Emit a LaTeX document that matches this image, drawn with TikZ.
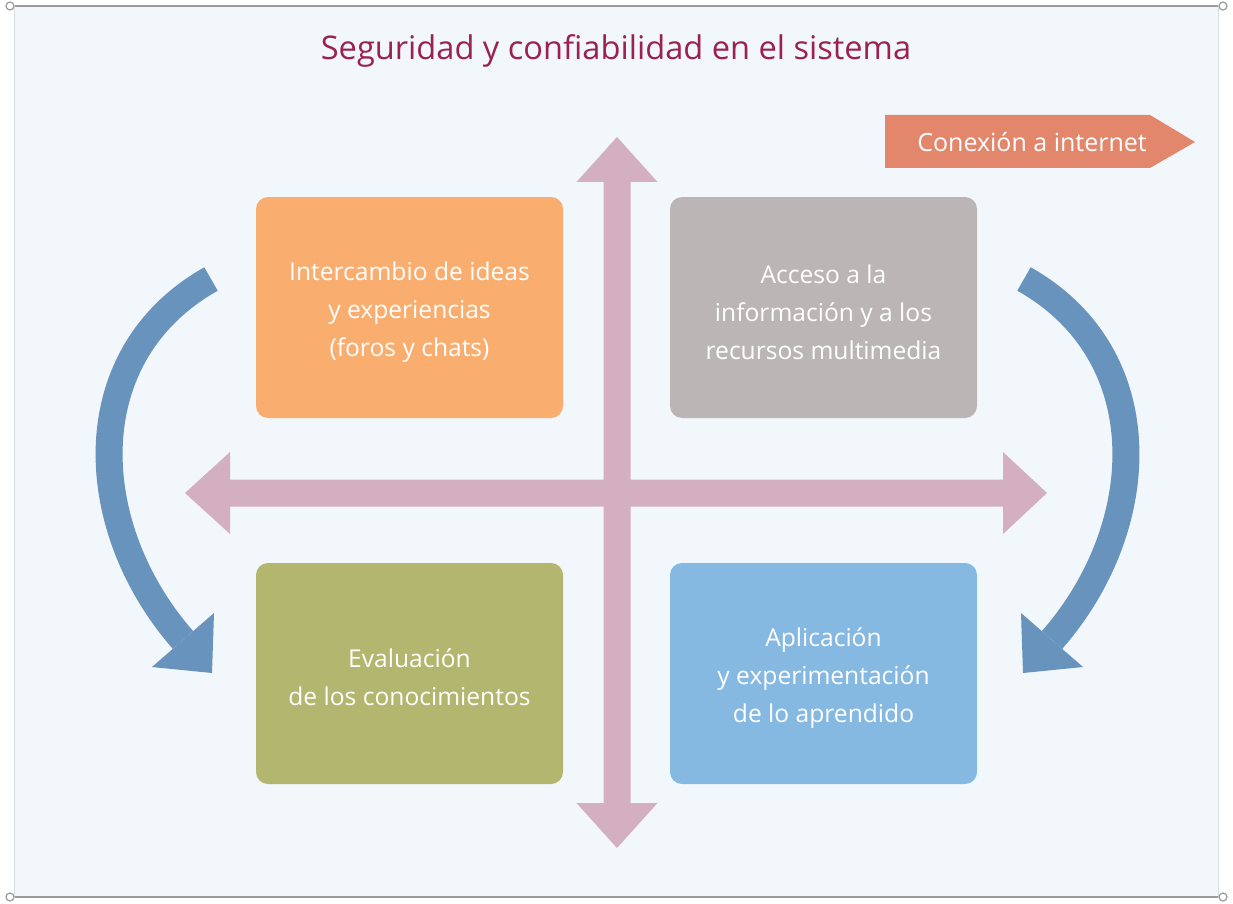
\documentclass[tikz,border=0pt]{standalone}
\usepackage{fontspec}
\setmainfont{Open Sans}
\definecolor{bgpanel}{HTML}{F2F7FB}
\definecolor{frameg}{HTML}{9A9A9A}
\definecolor{edgeg}{HTML}{D8DDE2}
\definecolor{titlec}{HTML}{9B2150}
\definecolor{orangeb}{HTML}{F9AE6F}
\definecolor{grayb}{HTML}{BBB6B5}
\definecolor{greenb}{HTML}{B3B66F}
\definecolor{blueb}{HTML}{86B9E2}
\definecolor{pinka}{HTML}{D4AEC1}
\definecolor{bluea}{HTML}{6793BD}
\definecolor{salmon}{HTML}{E2876C}
\begin{document}
\begin{tikzpicture}[x=1pt,y=-1pt,
  box/.style={rounded corners=12pt, minimum width=307pt, minimum height=221pt, inner sep=0pt},
  boxtext/.style={text=white, align=center, font=\fontsize{24.6}{38}\selectfont, inner sep=0pt},
  endmark/.style={circle, draw=frameg, fill=white, line width=1.2pt, minimum size=8pt, inner sep=0pt},
  curvearrow/.style={draw=bluea, line width=27pt, line cap=butt}]
\useasboundingbox (0,0) rectangle (1233,904);
% panel
\fill[bgpanel] (14,7) rectangle (1218,897);
\draw[edgeg, line width=0.8pt] (14,7) -- (14,897) (1218,7) -- (1218,897);
\node[endmark] (tl) at (10,6) {};
\node[endmark] (tr) at (1223,6) {};
\node[endmark] (bl) at (10,897) {};
\node[endmark] (br) at (1223,897) {};
\draw[frameg, line width=2pt] (tl) -- (tr) (bl) -- (br);
% title
\node[text=titlec, font=\fontsize{32.6}{40}\selectfont] (title) at (616,51) {Seguridad y confiabilidad en el sistema};
% pink cross arrows
\fill[pinka] (617,137) -- (657.5,182) -- (630.5,182) -- (630.5,803) -- (657.5,803) -- (617,848)
  -- (576.5,803) -- (603.5,803) -- (603.5,182) -- (576.5,182) -- cycle;
\fill[pinka] (185,493) -- (230,452) -- (230,479.5) -- (1003,479.5) -- (1003,452) -- (1047,493)
  -- (1003,534) -- (1003,506.5) -- (230,506.5) -- (230,534) -- cycle;
% boxes
\node[box, fill=orangeb] (b1) at (409.5,307.5) {};
\node[box, fill=grayb] (b2) at (823.5,307.5) {};
\node[box, fill=greenb] (b3) at (409.5,673.5) {};
\node[box, fill=blueb] (b4) at (823.5,673.5) {};
\node[boxtext] (t1) at ([yshift=-5pt]b1.center) {Intercambio de ideas\\y experiencias\\(foros y chats)};
\node[boxtext] (t2) at ([yshift=-5pt]b2.center) {Acceso a la\\información y a los\\recursos multimedia};
\node[boxtext] (t3) at ([yshift=-4pt]b3.center) {Evaluación\\de los conocimientos};
\node[boxtext] (t4) at ([yshift=-5pt]b4.center) {Aplicación\\y experimentación\\de lo aprendido};
% blue curved arrows
\coordinate (lt) at (211,279);
\coordinate (le) at (183,640);
\draw[curvearrow] (lt) .. controls (76,355) and (84,527) .. (le);
\fill[bluea] (152,667) -- (214,613) -- (212,673) -- cycle;
\coordinate (rt) at (1024,279);
\coordinate (re) at (1052,640);
\draw[curvearrow] (rt) .. controls (1159,355) and (1151,527) .. (re);
\fill[bluea] (1083,667) -- (1021,613) -- (1023,673) -- cycle;
% connection banner
\fill[salmon] (885,115) -- (1150,115) -- (1195,142) -- (1150,168) -- (885,168) -- cycle;
\node[text=white, font=\fontsize{25}{30}\selectfont] (net) at (1032,142) {Conexión a internet};
\end{tikzpicture}
\end{document}
